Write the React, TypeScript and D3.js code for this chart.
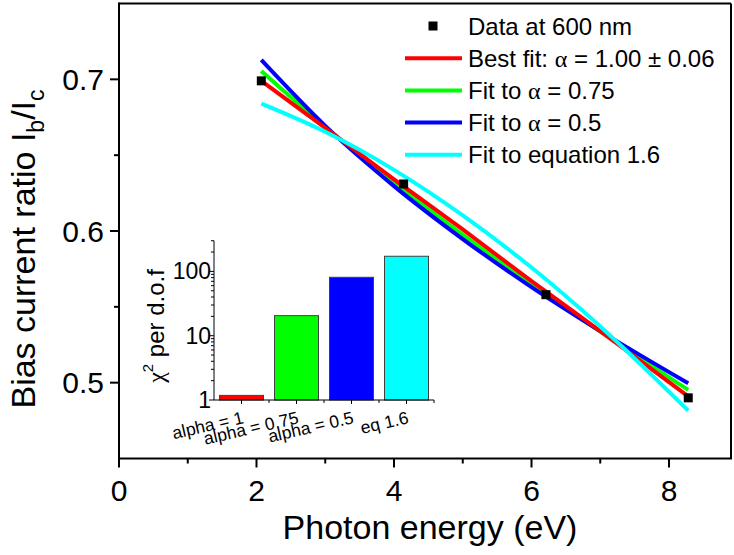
import React from "react";
import * as d3 from "d3";

// ---- Data ----
const photonEnergy = [2.07, 4.14, 6.21, 8.28];
const biasRatio = [0.699, 0.631, 0.558, 0.49];

const fitEnergy = [2.07, 3, 4, 5, 6, 7, 8.28];
const fitAlpha1 = [0.699, 0.668, 0.634, 0.601, 0.567, 0.534, 0.491];
const fitAlpha075 = [0.7055, 0.6686, 0.632, 0.5976, 0.565, 0.5337, 0.4952];
const fitAlpha05 = [0.7128, 0.6693, 0.6296, 0.5947, 0.563, 0.534, 0.4996];
const fitEq16 = [0.684, 0.6654, 0.6403, 0.6103, 0.5759, 0.5371, 0.4816];

const xMajorTicks = [0, 2, 4, 6, 8];
const xMinorTicks = [1, 3, 5, 7];
const yMajorTicks = [0.5, 0.6, 0.7];
const yMinorTicks = [0.55, 0.65];

const fitNames = ["alpha = 1", "alpha = 0.75", "alpha = 0.5", "eq 1.6"];
const chi2PerDof = [1.18, 20.5, 81, 172];
const insetMajorTicks = [1, 10, 100];
const insetMinorTicks = [2, 3, 4, 5, 6, 7, 8, 9, 20, 30, 40, 50, 60, 70, 80, 90, 200, 300];

const COLORS = ["#ff0000", "#00ff00", "#0000ff", "#00ffff"];
const FONT = "'Liberation Sans', Arial, sans-serif";
const SERIF = "'Liberation Serif', 'Times New Roman', serif";

export default function App() {
  const W = 734;
  const H = 555;
  const left = 119;
  const right = 731;
  const top = 3.5;
  const bottom = 458.5;

  const x = d3.scaleLinear().domain([0, (right - left) / 68.75]).range([left, right]);
  const y = d3.scaleLinear().domain([0.45, 0.75]).range([bottom, top]);

  const line = d3
    .line<number>()
    .x((_, i) => x(fitEnergy[i]))
    .y((d) => y(d))
    .curve(d3.curveMonotoneX);

  const fits = [
    { vals: fitAlpha075, color: COLORS[1] },
    { vals: fitAlpha05, color: COLORS[2] },
    { vals: fitAlpha1, color: COLORS[0] },
    { vals: fitEq16, color: COLORS[3] },
  ];

  // inset
  const ix = d3.scaleBand<string>().domain(fitNames).range([214, 434]).paddingInner(0.2).paddingOuter(0.1);
  const iy = d3.scaleLog().domain([1, 300]).range([400, 400 - 64.3 * Math.log10(300)]);
  const iLeft = 214;
  const iBottom = 400;

  const legendItems = [
    { kind: "sq", label: <>Data at 600 nm</> },
    { kind: "ln", color: COLORS[0], label: <>Best fit: <tspan fontFamily={SERIF}>α</tspan> = 1.00 ± 0.06</> },
    { kind: "ln", color: COLORS[1], label: <>Fit to <tspan fontFamily={SERIF}>α</tspan> = 0.75</> },
    { kind: "ln", color: COLORS[2], label: <>Fit to <tspan fontFamily={SERIF}>α</tspan> = 0.5</> },
    { kind: "ln", color: COLORS[3], label: <>Fit to equation 1.6</> },
  ];

  return (
    <svg width={W} height={H} style={{ position: "absolute", left: 0, top: 0 }} fontFamily={FONT}>
      <rect width={W} height={H} fill="#fff" />
      {/* frame */}
      <line x1={left} y1={top} x2={right} y2={top} stroke="#000" strokeWidth={2} />
      <line x1={right} y1={top} x2={right} y2={bottom} stroke="#000" strokeWidth={2} />
      <line x1={left} y1={top - 1} x2={left} y2={bottom + 1} stroke="#000" strokeWidth={2} />
      <line x1={left - 1} y1={bottom} x2={right + 1} y2={bottom} stroke="#000" strokeWidth={2} />

      {/* x ticks */}
      {xMajorTicks.map((t) => (
        <g key={"xm" + t}>
          <line x1={x(t)} x2={x(t)} y1={bottom} y2={bottom + 9} stroke="#000" strokeWidth={2} />
          <text x={x(t)} y={bottom + 42} fontSize={30} textAnchor="middle">{t}</text>
        </g>
      ))}
      {xMinorTicks.map((t) => (
        <line key={"xn" + t} x1={x(t)} x2={x(t)} y1={bottom} y2={bottom + 5} stroke="#000" strokeWidth={2} />
      ))}
      {/* y ticks */}
      {yMajorTicks.map((t) => (
        <g key={"ym" + t}>
          <line x1={left - 9} x2={left} y1={y(t)} y2={y(t)} stroke="#000" strokeWidth={2} />
          <text x={left - 15} y={y(t) + 10.5} fontSize={30} textAnchor="end">{t.toFixed(1)}</text>
        </g>
      ))}
      {yMinorTicks.map((t) => (
        <line key={"yn" + t} x1={left - 5} x2={left} y1={y(t)} y2={y(t)} stroke="#000" strokeWidth={2} />
      ))}

      {/* axis titles */}
      <text x={430} y={539} fontSize={34} textAnchor="middle">Photon energy (eV)</text>
      <text transform={`translate(35, 249) rotate(-90)`} fontSize={34} textAnchor="middle">
        Bias current ratio I<tspan fontSize={23} dy={9}>b</tspan><tspan dy={-9}>/I</tspan><tspan fontSize={23} dy={9}>c</tspan>
      </text>

      {/* inset */}
      {fitNames.map((n, i) => (
        <rect
          key={n}
          x={ix(n)}
          y={iy(chi2PerDof[i])}
          width={ix.bandwidth()}
          height={iBottom - iy(chi2PerDof[i])}
          fill={COLORS[i]}
          stroke="#404040"
          strokeWidth={1}
        />
      ))}
      <line x1={iLeft} x2={iLeft} y1={iy(300)} y2={iBottom} stroke="#000" strokeWidth={1} />
      <line x1={iLeft} x2={434} y1={iBottom} y2={iBottom} stroke="#000" strokeWidth={1} />
      {insetMajorTicks.map((t) => (
        <g key={"im" + t}>
          <line x1={iLeft - 5} x2={iLeft} y1={iy(t)} y2={iy(t)} stroke="#000" strokeWidth={1} />
          <text x={iLeft - 3} y={iy(t) + 8} fontSize={23} textAnchor="end">{t}</text>
        </g>
      ))}
      {insetMinorTicks.map((t) => (
        <line key={"in" + t} x1={iLeft - 3} x2={iLeft} y1={iy(t)} y2={iy(t)} stroke="#000" strokeWidth={1} />
      ))}
      {fitNames.map((n, i) => {
        const cx = (ix(n) as number) + ix.bandwidth() / 2;
        return (
          <g key={"ic" + n}>
            <line x1={cx} x2={cx} y1={iBottom} y2={iBottom + 4} stroke="#000" strokeWidth={1} />
            <line x1={iLeft + 55 * (i + 1)} x2={iLeft + 55 * (i + 1)} y1={iBottom} y2={iBottom + 3} stroke="#000" strokeWidth={1} />
            <text transform={`translate(${cx + 3}, ${iBottom + 23}) rotate(-13)`} fontSize={17.5} textAnchor="end">{n}</text>
          </g>
        );
      })}
      <text transform={`translate(164, 326) rotate(-90)`} fontSize={24} textAnchor="middle">
        <tspan fontFamily={SERIF}>χ</tspan><tspan fontSize={15} dy={-11}>2</tspan><tspan dy={11}> per d.o.f</tspan>
      </text>

      {/* fits */}
      {fits.map((f, i) => (
        <path key={i} d={line(f.vals) || ""} fill="none" stroke={f.color} strokeWidth={4} />
      ))}
      {/* data */}
      {photonEnergy.map((e, i) => (
        <rect key={"d" + i} x={x(e) - 4.5} y={y(biasRatio[i]) - 4.5} width={9} height={9} fill="#000" />
      ))}

      {/* legend */}
      {legendItems.map((it, i) => {
        const cy = 26 + i * 32.2;
        return (
          <g key={"lg" + i}>
            {it.kind === "sq" ? (
              <rect x={433 - 4.5} y={cy - 4.5} width={9} height={9} fill="#000" />
            ) : (
              <line x1={405} x2={462} y1={cy} y2={cy} stroke={it.color} strokeWidth={4} />
            )}
            <text x={468} y={cy + 8.5} fontSize={24}>{it.label}</text>
          </g>
        );
      })}
    </svg>
  );
}
